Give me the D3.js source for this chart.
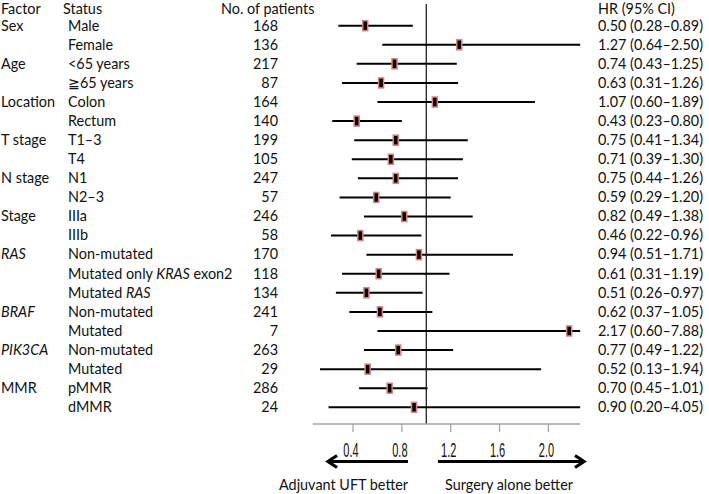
<!DOCTYPE html>
<html>
<head>
<meta charset="utf-8">
<script src="https://cdn.jsdelivr.net/npm/d3@7"></script>
<style>
  body { margin: 0; background: #fff; }
  svg text { font-family: Lato, "Noto Sans", sans-serif; font-size: 14.4px; fill: #111; }
</style>
</head>
<body>
<div id="forest"></div>
<script>
var factors = ["Sex","","Age","","Location","","T stage","","N stage","","Stage","","*RAS*","","","*BRAF*","","*PIK3CA*","","MMR",""];
var statuses = ["Male","Female","<65 years","\u226765 years","Colon","Rectum","T1\u20133","T4","N1","N2\u20133","IIIa","IIIb",
  "Non-mutated","Mutated only *KRAS* exon2","Mutated *RAS*","Non-mutated","Mutated","Non-mutated","Mutated","pMMR","dMMR"];
var patients = [168,136,217,87,164,140,199,105,247,57,246,58,170,118,134,241,7,263,29,286,24];
var hr = [0.50,1.27,0.74,0.63,1.07,0.43,0.75,0.71,0.75,0.59,0.82,0.46,0.94,0.61,0.51,0.62,2.17,0.77,0.52,0.70,0.90];
var ciLow = [0.28,0.64,0.43,0.31,0.60,0.23,0.41,0.39,0.44,0.29,0.49,0.22,0.51,0.31,0.26,0.37,0.60,0.49,0.13,0.45,0.20];
var ciHigh = [0.89,2.50,1.25,1.26,1.89,0.80,1.34,1.30,1.26,1.20,1.38,0.96,1.71,1.19,0.97,1.05,7.88,1.22,1.94,1.01,4.05];
var ticks = [0.4,0.8,1.2,1.6,2.0];
var headers = ["Factor","Status","No. of patients","HR (95% CI)"];

var rows = d3.range(hr.length);
var width = 709, height = 494;

var svg = d3.select("#forest").append("svg")
  .attr("width", width).attr("height", height);

var x = d3.scaleLinear().domain([0.4, 2.0]).range([353, 548.4]);
var xMin = 0.07, xMax = 2.26;
var y = d3.scaleLinear().domain([0, rows.length - 1]).range([25.7, 407.3]);
var axisY = 424;

// text with *italic* parts
function rich(sel, str) {
  str.split("*").forEach(function(part, i) {
    if (part === "") return;
    sel.append("tspan").text(part).style("font-style", i % 2 ? "italic" : "normal");
  });
}

// headers
var hx = [1, 63, 221, 598];
svg.selectAll(".hdr").data(headers).join("text")
  .attr("class", "hdr")
  .attr("x", (d, i) => hx[i])
  .attr("y", 13.5)
  .text(d => d);

// factor + status
svg.selectAll(".factor").data(rows).join("text")
  .attr("class", "factor")
  .attr("x", 1)
  .attr("y", i => y(i) + 4.8)
  .each(function(i) { rich(d3.select(this), factors[i]); });

svg.selectAll(".status").data(rows).join("text")
  .attr("class", "status")
  .attr("x", 68)
  .attr("y", i => y(i) + 4.8)
  .each(function(i) { rich(d3.select(this), statuses[i]); });

svg.selectAll(".num").data(rows).join("text")
  .attr("class", "num")
  .attr("x", 278)
  .attr("text-anchor", "end")
  .attr("y", i => y(i) + 4.8)
  .text(i => patients[i]);

var f = d3.format(".2f");
svg.selectAll(".hr").data(rows).join("text")
  .attr("class", "hr")
  .attr("x", 598)
  .attr("y", i => y(i) + 4.8)
  .text(i => f(hr[i]) + " (" + f(ciLow[i]) + "\u2013" + f(ciHigh[i]) + ")");

// reference line at 1
svg.append("line")
  .attr("x1", x(1)).attr("x2", x(1))
  .attr("y1", 4).attr("y2", axisY)
  .attr("stroke", "#111").attr("stroke-width", 1.2);

// CI lines
svg.selectAll(".ci").data(rows).join("line")
  .attr("class", "ci")
  .attr("x1", i => x(Math.max(ciLow[i], xMin)))
  .attr("x2", i => x(Math.min(ciHigh[i], xMax)))
  .attr("y1", i => y(i)).attr("y2", i => y(i))
  .attr("stroke", "#000").attr("stroke-width", 2);

// markers
svg.selectAll(".pt").data(rows).join("rect")
  .attr("class", "pt")
  .attr("x", i => x(hr[i]) - 2.5)
  .attr("y", i => y(i) - 5)
  .attr("width", 5).attr("height", 10)
  .attr("fill", "#000")
  .attr("stroke", "#d98080").attr("stroke-width", 1.5);

// axis
svg.append("line")
  .attr("x1", x(xMin)).attr("x2", x(xMax))
  .attr("y1", axisY).attr("y2", axisY)
  .attr("stroke", "#a0a0a0").attr("stroke-width", 1.5);

svg.selectAll(".tick").data(ticks).join("line")
  .attr("class", "tick")
  .attr("x1", d => x(d)).attr("x2", d => x(d))
  .attr("y1", axisY).attr("y2", axisY + 8)
  .attr("stroke", "#a0a0a0").attr("stroke-width", 1.2);

svg.selectAll(".tlab").data(ticks).join("text")
  .attr("class", "tlab")
  .attr("transform", d => `translate(${x(d) - 2},457) scale(0.55,1)`)
  .attr("text-anchor", "middle")
  .style("font-family", "'Liberation Sans', Arial, sans-serif")
  .style("font-size", "20px")
  .text(d => d3.format(".1f")(d));

// arrows
var arrowY = 461.5;
svg.append("path")
  .attr("d", `M408,${arrowY}H328 M337,${arrowY - 6}L328,${arrowY}L337,${arrowY + 6}`)
  .attr("fill", "none").attr("stroke", "#000").attr("stroke-width", 3.2);
svg.append("path")
  .attr("d", `M438,${arrowY}H584 M575,${arrowY - 6}L584,${arrowY}L575,${arrowY + 6}`)
  .attr("fill", "none").attr("stroke", "#000").attr("stroke-width", 3.2);

svg.append("text").attr("x", 279).attr("y", 490).text("Adjuvant UFT better");
svg.append("text").attr("x", 445).attr("y", 490).text("Surgery alone better");
</script>
</body>
</html>
